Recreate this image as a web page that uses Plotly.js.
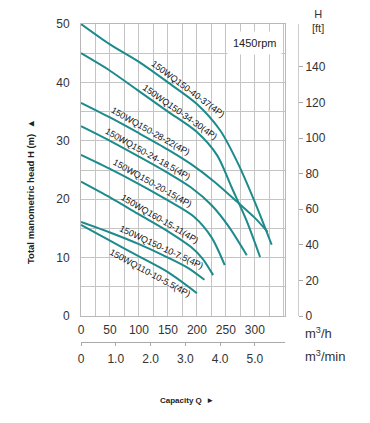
<!DOCTYPE html>
<html><head><meta charset="utf-8">
<script src="https://cdn.plot.ly/plotly-3.0.1.min.js"></script>
<style>html,body{margin:0;padding:0;background:#fff;}#chart{width:370px;height:423px;}</style>
</head><body><div id="chart"></div>
<script>
// Pump curves: capacity Q (m3/h) vs total head H (m)
const models = ["150WQ150-40-37(4P)","150WQ150-34-30(4P)","150WQ150-28-22(4P)","150WQ150-24-18.5(4P)",
                "150WQ150-20-15(4P)","150WQ160-15-11(4P)","150WQ150-10-7.5(4P)","150WQ110-10-5.5(4P)"];
const q1 = [0,50,100,150,200,240,270,300,329];
const h1 = [50,46.5,43.5,40,36.3,31.8,26.3,19.5,12.2];
const q2 = [0,50,100,150,200,235,260,285,309];
const h2 = [45,42,38.5,35,31.5,27.5,22,16.5,10.1];
const q3 = [0,50,100,150,190,230,270,300,322];
const h3 = [36.5,34,31.3,28.5,26,23,19.5,16.8,14.4];
const q4 = [0,50,100,150,190,225,255,286];
const h4 = [32.5,30,27.3,24.5,22,19,15.3,10.4];
const q5 = [0,50,100,150,195,225,248];
const h5 = [27.6,25.2,22.6,19.8,17,13.5,8.7];
const q6 = [0,50,100,150,190,210,228];
const h6 = [23,20.3,17.4,14.5,11.8,9.8,7.0];
const q7 = [0,50,100,150,185,213];
const h7 = [16.1,14.3,12.3,10,8.2,6.2];
const q8 = [0,50,100,150,200];
const h8 = [15.6,12.9,10.2,7.5,3.9];

const xTickVals = [0,50,100,150,200,250,300];
const x2TickVals = [0,1,2,3,4,5];
const x2TickText = ["0","1.0","2.0","3.0","4.0","5.0"];
const ftTickVals = [0,20,40,60,80,100,120,140];

const Q = [q1,q2,q3,q4,q5,q6,q7,q8];
const H = [h1,h2,h3,h4,h5,h6,h7,h8];
const teal = "#1d8a8c";
const font = "Arial, 'Liberation Sans', sans-serif";
const traces = Q.map((q,i)=>({x:q,y:H[i],type:"scatter",mode:"lines",name:models[i],
  line:{color:teal,width:2,shape:"spline",smoothing:0.8},hoverinfo:"skip",showlegend:false}));

// geometry (pixels)
const W=370, HT=423, ml=81, mr=370-298, mt=24, mb=423-342;
const pw=W-ml-mr, ph=HT-mt-mb;
const plotL=81, plotR=285, plotT=24, plotB=316;
const xMax=352, yMax=50;
const pxPerQ=(plotR-plotL)/xMax, pxPerH=(plotB-plotT)/yMax;

function interp(q,qs,hs){
  for(let k=0;k<qs.length-1;k++){ if(q>=qs[k]&&q<=qs[k+1]){const t=(q-qs[k])/(qs[k+1]-qs[k]);return hs[k]+t*(hs[k+1]-hs[k]);} }
  return hs[hs.length-1];
}
// label centre x (pixel) and offset from its curve (px, + = above)
const labX=[188,180,150,148,152,160,161,150];
const labOff=[7,7,7,7,7,7,7,-9];
const ann = labX.map((lx,i)=>{
  const q=(lx-plotL)/pxPerQ;
  const h=interp(q,Q[i],H[i]);
  const s=(interp(q+8,Q[i],H[i])-interp(q-8,Q[i],H[i]))/16;
  const ang=Math.atan(-s*pxPerH/pxPerQ);
  const dy=labOff[i]/Math.cos(ang);
  return {x:q - labOff[i]*Math.sin(ang)/pxPerQ*0, y:h+dy/pxPerH,xref:"x",yref:"y",text:models[i],showarrow:false,
    textangle:ang*180/Math.PI,font:{family:font,size:9,color:"#111"}};
});
ann.push({x:0.985,y:0.935,xref:"x domain",yref:"y domain",xanchor:"right",yanchor:"middle",text:"1450rpm",showarrow:false,
  bgcolor:"#fff",borderpad:5,font:{family:font,size:11,color:"#222"}});
function P(x,y){return {x:(x-ml)/pw, y:(HT-mb-y)/ph};}
const extra=[
  Object.assign({text:"H<br>[ft]",xanchor:"center",yanchor:"middle",font:{family:font,size:11,color:"#333"}},P(318,21)),
  Object.assign({text:"m<sup>3</sup>/h",xanchor:"left",yanchor:"middle",font:{family:font,size:13,color:"#333"}},P(303,333)),
  Object.assign({text:"m<sup>3</sup>/min",xanchor:"left",yanchor:"middle",font:{family:font,size:13,color:"#333"}},P(303,356)),
  Object.assign({text:"<b>Capacity Q  ►</b>",xanchor:"center",yanchor:"middle",font:{family:font,size:8,color:"#222"}},P(187,400)),
  Object.assign({text:"<b>Total manometric head H (m)  ▲</b>",textangle:-90,xanchor:"center",yanchor:"middle",font:{family:font,size:9.5,color:"#222"}},P(30,192))
].map(a=>Object.assign(a,{xref:"paper",yref:"paper",showarrow:false}));
const yDomLo = (HT-mb-plotB)/ph;
const xDomHi = (plotR-ml)/pw;
const layout={
  width:W,height:HT,margin:{l:ml,r:mr,t:mt,b:mb},paper_bgcolor:"#fff",plot_bgcolor:"#fff",
  showlegend:false,
  xaxis:{domain:[0,xDomHi],range:[0,xMax],tickvals:xTickVals,showgrid:true,gridcolor:"#c4c4c4",gridwidth:1,
    minor:{dtick:25,tick0:0,showgrid:true,gridcolor:"#c4c4c4",gridwidth:1},
    zeroline:false,showline:true,linecolor:"#b8b8b8",mirror:true,ticks:"",ticklabelstandoff:3,
    tickfont:{family:font,size:12,color:"#333"},anchor:"y",fixedrange:true},
  xaxis2:{overlaying:"x",domain:[0,xDomHi],range:[0,xMax/60],anchor:"free",position:0,side:"bottom",
    tickvals:x2TickVals,ticktext:x2TickText,showgrid:false,zeroline:false,showline:true,linecolor:"#aaa",
    ticks:"outside",ticklen:3,tickcolor:"#aaa",ticklabelstandoff:3,tickfont:{family:font,size:12,color:"#333"},fixedrange:true},
  yaxis:{domain:[yDomLo,1],range:[0,yMax],dtick:10,showgrid:true,gridcolor:"#c4c4c4",
    minor:{dtick:5,showgrid:true,gridcolor:"#c4c4c4"},zeroline:false,showline:true,linecolor:"#b8b8b8",mirror:true,
    ticks:"",ticklabelstandoff:8,tickfont:{family:font,size:12,color:"#333"},fixedrange:true},
  yaxis2:{overlaying:"y",domain:[yDomLo,1],range:[0,yMax/0.3048],side:"right",anchor:"free",position:1,
    tickvals:ftTickVals,showgrid:false,zeroline:false,showline:true,linecolor:"#ccc",ticks:"outside",ticklen:4,
    tickcolor:"#aaa",tickfont:{family:font,size:12,color:"#333"},fixedrange:true},
  annotations:ann.concat(extra)
};
const dummy=[{x:[],y:[],xaxis:"x2",yaxis:"y",type:"scatter",showlegend:false},
             {x:[],y:[],xaxis:"x",yaxis:"y2",type:"scatter",showlegend:false}];
Plotly.newPlot("chart",traces.concat(dummy),layout,{staticPlot:true,displayModeBar:false});
</script>
</body></html>
